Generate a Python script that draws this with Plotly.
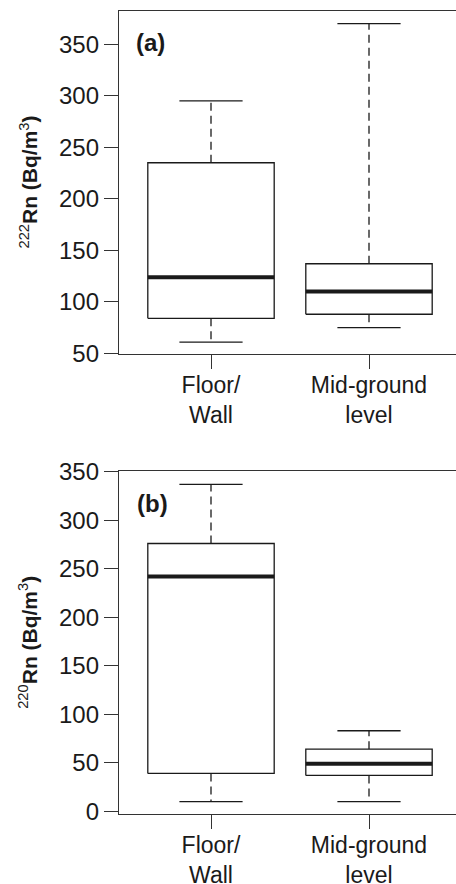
import plotly.graph_objects as go

# ---------------- data ----------------
categories = ["Floor/<br>Wall", "Mid-ground<br>level"]

rn222_lower = [61, 75]
rn222_q1 = [84, 88]
rn222_median = [124, 110]
rn222_q3 = [235, 137]
rn222_upper = [295, 370]

rn220_lower = [10, 10]
rn220_q1 = [39, 37]
rn220_median = [242, 49]
rn220_q3 = [276, 64]
rn220_upper = [337, 83]

yticks_a = [50, 100, 150, 200, 250, 300, 350]
yticks_b = [0, 50, 100, 150, 200, 250, 300, 350]

# ---------------- style ----------------
W, H = 456, 884
FONT = "Liberation Sans, Arial, sans-serif"
FS_Y = 24
FS_X = 23
FS_T = 21
INK = "#1a1a1a"
AX = "#333333"
BOX_HW = 0.4
CAP_HW = 0.2

fig = go.Figure()


def line(xa, ya, xs, ys, width=1.3, dash="solid"):
    fig.add_trace(go.Scatter(
        x=xs, y=ys, mode="lines", xaxis=xa, yaxis=ya,
        line=dict(color=INK, width=width, dash=dash),
        showlegend=False, hoverinfo="skip"))


def add_panel(xa, ya, lower, q1, med, q3, upper):
    for i in range(len(categories)):
        xc = i + 1
        # whiskers (dashed)
        line(xa, ya, [xc, xc], [q3[i], upper[i]], width=1.3, dash="8px,5px")
        line(xa, ya, [xc, xc], [q1[i], lower[i]], width=1.3, dash="8px,5px")
        # caps
        line(xa, ya, [xc - CAP_HW, xc + CAP_HW], [upper[i], upper[i]])
        line(xa, ya, [xc - CAP_HW, xc + CAP_HW], [lower[i], lower[i]])
        # box
        fig.add_trace(go.Scatter(
            x=[xc - BOX_HW, xc + BOX_HW, xc + BOX_HW, xc - BOX_HW, xc - BOX_HW],
            y=[q1[i], q1[i], q3[i], q3[i], q1[i]],
            mode="lines", fill="toself", fillcolor="white",
            xaxis=xa, yaxis=ya, line=dict(color=INK, width=1.3),
            showlegend=False, hoverinfo="skip"))
        # median
        line(xa, ya, [xc - BOX_HW, xc + BOX_HW], [med[i], med[i]], width=4)


add_panel("x", "y", rn222_lower, rn222_q1, rn222_median, rn222_q3, rn222_upper)
add_panel("x2", "y2", rn220_lower, rn220_q1, rn220_median, rn220_q3, rn220_upper)

# pixel geometry
left_px = 119
xr = [1 - 92 / 158, 2 + (W - 211 - 158) / 158]


def ydom(top_px, bot_px):
    return [(H - bot_px) / H, (H - top_px) / H]


xcommon = dict(
    range=xr, tickmode="array", tickvals=[1, 2], ticktext=categories,
    ticks="outside", ticklen=14, tickwidth=1.3, tickcolor=AX,
    ticklabelstandoff=-4,
    showline=True, linecolor=AX, linewidth=1.3, mirror=True,
    showgrid=False, zeroline=False, automargin=False,
    tickfont=dict(family=FONT, size=FS_X, color=INK),
    domain=[left_px / W, 1.0], fixedrange=True,
)
ycommon = dict(
    ticks="outside", ticklen=14, tickwidth=1.3, tickcolor=AX,
    showline=True, linecolor=AX, linewidth=1.3, mirror=False,
    showgrid=False, zeroline=False, automargin=False,
    tickfont=dict(family=FONT, size=FS_Y, color=INK), fixedrange=True,
)

fig.update_layout(
    width=W, height=H,
    margin=dict(l=0, r=0, t=0, b=0),
    paper_bgcolor="white", plot_bgcolor="white",
    font=dict(family=FONT, size=FS_Y, color=INK),
    xaxis=dict(**xcommon, anchor="y"),
    xaxis2=dict(**xcommon, anchor="y2"),
    yaxis=dict(**ycommon, anchor="x", domain=ydom(11, 354),
               range=[49.4, 382.3], tickvals=yticks_a),
    yaxis2=dict(**ycommon, anchor="x2", domain=ydom(471.3, 814.3),
                range=[-3.1, 350.4], tickvals=yticks_b),
    annotations=[
        dict(text="<b>(a)</b>", x=134 / W, y=(H - 42) / H, xref="paper", yref="paper",
             xanchor="left", yanchor="middle", showarrow=False,
             font=dict(family=FONT, size=FS_Y, color=INK)),
        dict(text="<b>(b)</b>", x=135 / W, y=(H - 503) / H, xref="paper", yref="paper",
             xanchor="left", yanchor="middle", showarrow=False,
             font=dict(family=FONT, size=FS_Y, color=INK)),
        dict(text="<sup>222</sup><b>Rn (Bq/m</b><sup>3</sup><b>)</b>",
             x=28 / W, y=(H - 182.5) / H, xref="paper", yref="paper",
             xanchor="center", yanchor="middle", textangle=-90, showarrow=False,
             font=dict(family=FONT, size=FS_T, color=INK)),
        dict(text="<sup>220</sup><b>Rn (Bq/m</b><sup>3</sup><b>)</b>",
             x=28 / W, y=(H - 642.8) / H, xref="paper", yref="paper",
             xanchor="center", yanchor="middle", textangle=-90, showarrow=False,
             font=dict(family=FONT, size=FS_T, color=INK)),
    ],
)

fig.write_html("out.html")
